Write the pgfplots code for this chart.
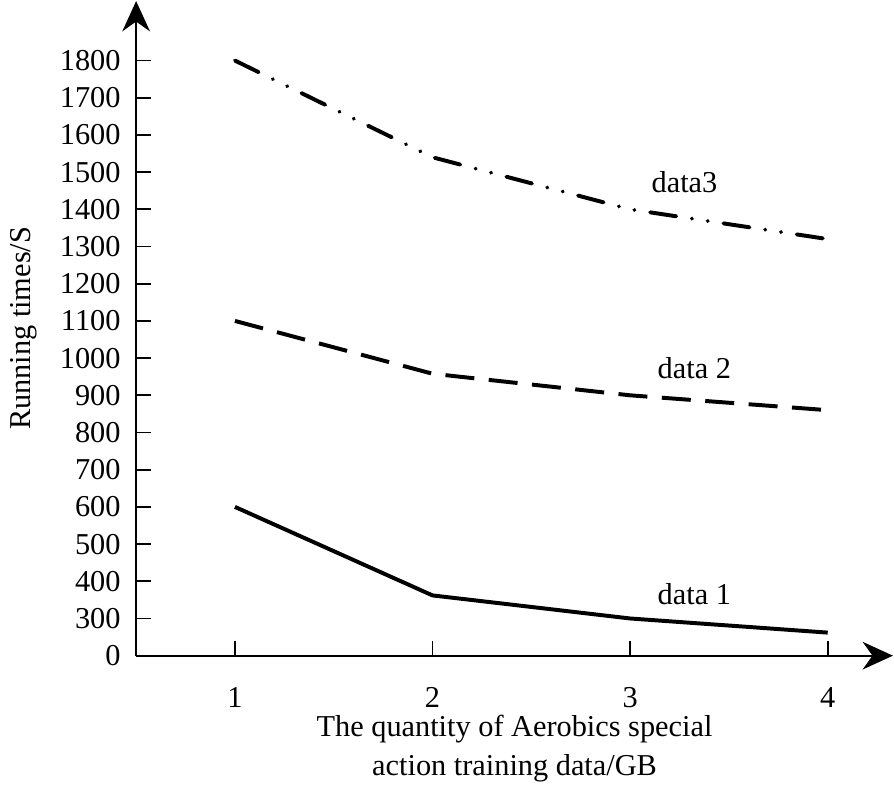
\documentclass[border=0pt]{standalone}
\usepackage{fontspec}
\setmainfont{Liberation Serif}
\usepackage{pgfplots}
\pgfplotsset{compat=1.18}
\usetikzlibrary{arrows.meta}
\begin{document}
\fontsize{23}{30}\selectfont
\begin{tikzpicture}
\begin{axis}[
  scale only axis,
  width=574pt, height=496.5pt,
  xmin=0.5, xmax=4.33,
  ymin=200, ymax=1960,
  axis lines=left,
  axis line style={line width=1.6pt, -{Stealth[length=23pt,width=21pt]}},
  tick align=inside,
  xtick align=inside, ytick align=inside,
  major tick length=11pt,
  tick style={line width=1.3pt, black},
  xtick={1,2,3,4},
  ytick={200,300,400,500,600,700,800,900,1000,1100,1200,1300,1400,1500,1600,1700,1800},
  yticklabels={0,300,400,500,600,700,800,900,1000,1100,1200,1300,1400,1500,1600,1700,1800},
  /pgf/number format/assume math mode=true,
  ticklabel style={font=\fontsize{23}{30}\selectfont},
  xticklabel style={yshift=-16pt},
  yticklabel style={xshift=-4pt},
  xlabel={The quantity of Aerobics special\\action training data/GB},
  xlabel style={align=center, font=\fontsize{23}{30}\selectfont, yshift=10pt},
  ylabel={Running times/S},
  ylabel style={font=\fontsize{23}{30}\selectfont, yshift=2pt},
  clip=false,
]
\addplot[black, line width=3pt] coordinates {(1,600) (2,362) (3,300) (4,262)};
\addplot[black, line width=3pt, dash pattern=on 22pt off 11pt] coordinates {(1,1100) (2,958) (3,900) (4,860)};
\addplot[black, line width=3pt, line cap=round, dash pattern=on 20pt off 12pt on 0.1pt off 12pt on 0.1pt off 12pt] coordinates {(1,1800) (2,1540) (3,1400) (4,1320)};
\node[font=\fontsize{23}{30}\selectfont] at (axis cs:3.275,1474) {data3};
\node[font=\fontsize{23}{30}\selectfont] at (axis cs:3.325,974) {data 2};
\node[font=\fontsize{23}{30}\selectfont] at (axis cs:3.325,365) {data 1};
\end{axis}
\end{tikzpicture}
\end{document}
